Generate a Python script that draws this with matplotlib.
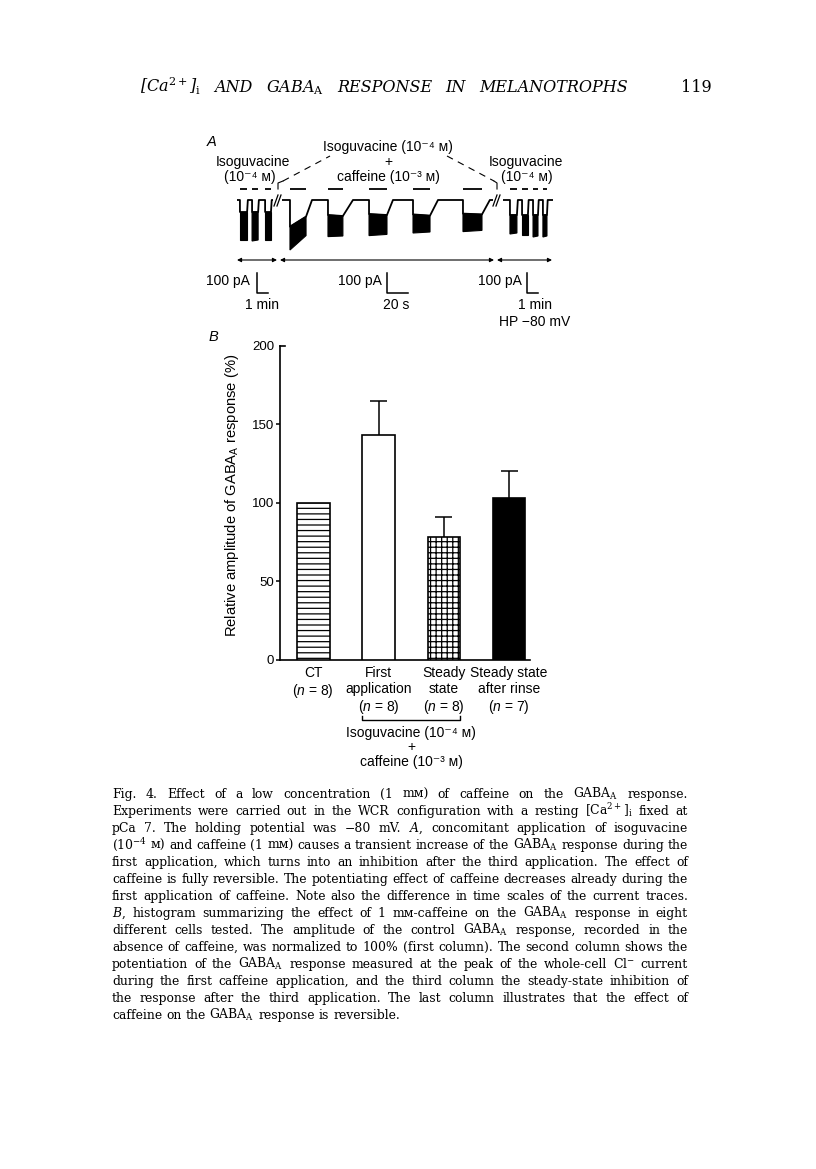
import matplotlib
matplotlib.use('Agg')
import matplotlib.pyplot as plt
import matplotlib.transforms as mtransforms
import numpy as np

plt.rcParams['font.family'] = ['Liberation Sans', 'DejaVu Sans']
plt.rcParams['mathtext.fontset'] = 'custom'
plt.rcParams['mathtext.rm'] = 'Liberation Sans'
plt.rcParams['mathtext.it'] = 'Liberation Sans:italic'
plt.rcParams['mathtext.bf'] = 'Liberation Sans:bold'
plt.rcParams['hatch.linewidth'] = 0.9

SERIF = ['DejaVu Serif', 'DejaVu Sans']
W, H = 816, 1169

# ---- panel B: relative amplitude of GABA_A response (%) ----
categories = ['CT\n($n$ = 8)', 'First\napplication\n($n$ = 8)',
              'Steady\nstate\n($n$ = 8)', 'Steady state\nafter rinse\n($n$ = 7)']
rel_amplitude = [100, 143, 78, 103]
sem_upper = [0, 21.5, 13, 17]
bar_hatch = ['---', '', '+++', '']
bar_fill = ['white', 'white', 'white', 'black']
y_ticks = [0, 50, 100, 150, 200]

# ---- panel A: whole-cell current traces (time in s, current in pA) ----
# isoguvacine alone (left, 1 min scale)
left_end = 196
left_on = [16, 82, 153]
left_off = [55, 115, 185]
left_rec = [59, 119, 189]
left_top0 = [-60, -60, -60]
left_top1 = [-60, -60, -60]
left_bot0 = [-200, -205, -200]
left_bot1 = [-200, -200, -200]

# isoguvacine + caffeine (middle, 20 s scale)
mid_end = 201
mid_on = [7.6, 43.8, 82.9, 124.8, 172.4]
mid_off = [22.9, 58.0, 100.0, 141.0, 190.5]
mid_rec = [28.6, 67.6, 105.7, 148.6, 198.0]
mid_top0 = [-133, -75, -70, -72, -68]
mid_top1 = [-83, -80, -75, -78, -72]
mid_bot0 = [-250, -183, -178, -165, -158]
mid_bot1 = [-178, -180, -172, -160, -152]

# isoguvacine alone after rinse (right, 1 min scale)
right_end = 273
right_on = [38, 104, 164, 218]
right_off = [76, 136, 191, 240]
right_rec = [81, 140, 195, 244]
right_top0 = [-75, -75, -75, -75]
right_top1 = [-75, -75, -75, -75]
right_bot0 = [-170, -175, -185, -185]
right_bot1 = [-165, -175, -180, -180]

app_level = 55          # application marks above the trace (pA)
trace_ylim = (-260, 70)

header_words = ["[Ca$^{2+}$]$_\\mathrm{i}$", "AND", "GABA$_\\mathrm{A}$", "RESPONSE", "IN", "MELANOTROPHS"]
page_number = '119'

caption_lines = [
    "Fig. 4. Effect of a low concentration (1 mᴍ) of caffeine on the GABA$_\\mathrm{A}$ response.",
    "Experiments were carried out in the WCR configuration with a resting [Ca$^{2+}$]$_\\mathrm{i}$ fixed at",
    "pCa 7. The holding potential was −80 mV. $A$, concomitant application of isoguvacine",
    "(10$^{-4}$ ᴍ) and caffeine (1 mᴍ) causes a transient increase of the GABA$_\\mathrm{A}$ response during the",
    "first application, which turns into an inhibition after the third application. The effect of",
    "caffeine is fully reversible. The potentiating effect of caffeine decreases already during the",
    "first application of caffeine. Note also the difference in time scales of the current traces.",
    "$B$, histogram summarizing the effect of 1 mᴍ-caffeine on the GABA$_\\mathrm{A}$ response in eight",
    "different cells tested. The amplitude of the control GABA$_\\mathrm{A}$ response, recorded in the",
    "absence of caffeine, was normalized to 100% (first column). The second column shows the",
    "potentiation of the GABA$_\\mathrm{A}$ response measured at the peak of the whole-cell Cl$^{-}$ current",
    "during the first caffeine application, and the third column the steady-state inhibition of",
    "the response after the third application. The last column illustrates that the effect of",
    "caffeine on the GABA$_\\mathrm{A}$ response is reversible.",
]


def frac(x0, y0, x1, y1):
    return [x0 / W, 1 - y1 / H, (x1 - x0) / W, (y1 - y0) / H]


fig = plt.figure(figsize=(W / 100, H / 100), dpi=100)
page = fig.add_axes([0, 0, 1, 1])
page.set_xlim(0, W)
page.set_ylim(H, 0)
page.axis('off')
renderer = fig.canvas.get_renderer()


def text_width(s, fs, **kw):
    t = page.text(0, 0, s, fontsize=fs, family=SERIF, math_fontfamily='dejavuserif', **kw)
    w = t.get_window_extent(renderer).width
    t.remove()
    return w


def justify(words, y, left, right, fs, spread=True, **kw):
    ws = [text_width(w, fs, **kw) for w in words]
    if spread:
        gap = (right - left - sum(ws)) / (len(words) - 1)
    else:
        gap = text_width('x x', fs, **kw) - text_width('xx', fs, **kw)
    xp = left
    for w, wd in zip(words, ws):
        page.text(xp, y, w, fontsize=fs, family=SERIF, math_fontfamily='dejavuserif',
                  ha='left', va='baseline', **kw)
        xp += wd + gap


# ---- running head (letter-spaced italic capitals) ----
justify(header_words, 92, 140, 628, 11.5, style='italic')
page.text(712, 92, page_number, ha='right', va='baseline', family=SERIF, fontsize=11.5)


# ---- panel A ----
def draw_trace(ax, t_end, on, off, rec, top0, top1, bot0, bot1):
    xs, ys = [0], [0]
    for i in range(len(on)):
        xs += [on[i], on[i], off[i], rec[i]]
        ys += [0, top0[i], top1[i], 0]
        ax.fill([on[i], off[i], off[i], on[i]], [top0[i], top1[i], bot1[i], bot0[i]],
                color='k', lw=0.8)
        ax.hlines(app_level, on[i], off[i], color='k', lw=1.3)
    xs.append(t_end)
    ys.append(0)
    ax.plot(xs, ys, color='k', lw=1.3, solid_joinstyle='round')
    ax.set_xlim(0, t_end)
    ax.set_ylim(*trace_ylim)
    ax.axis('off')


ax_l = fig.add_axes(frac(237, 186, 273, 252))
draw_trace(ax_l, left_end, left_on, left_off, left_rec, left_top0, left_top1, left_bot0, left_bot1)
ax_m = fig.add_axes(frac(282, 186, 493, 252))
draw_trace(ax_m, mid_end, mid_on, mid_off, mid_rec, mid_top0, mid_top1, mid_bot0, mid_bot1)
ax_r = fig.add_axes(frac(503, 186, 553, 252))
draw_trace(ax_r, right_end, right_on, right_off, right_rec, right_top0, right_top1, right_bot0, right_bot1)


def page_to_data(ax, px, py):
    return ax.transData.inverted().transform(page.transData.transform((px, py)))


def scale_bar(ax, px, py, dt, di=100):
    x0, y0 = page_to_data(ax, px, py)
    ax.plot([x0, x0, x0 + dt], [y0 + di, y0, y0], color='k', lw=1.1, clip_on=False)


scale_bar(ax_l, 257, 293, 60)
scale_bar(ax_m, 387, 293, 20)
scale_bar(ax_r, 527, 293, 60)

txt = dict(ha='center', va='center', fontsize=10)
page.text(212, 142, 'A', style='italic', fontsize=10.5, ha='center', va='center')
page.text(388, 147, 'Isoguvacine (10⁻⁴ ᴍ)', **txt)
page.text(388, 162, '+', **txt)
page.text(388, 177, 'caffeine (10⁻³ ᴍ)', **txt)
page.text(253, 162, 'Isoguvacine', **txt)
page.text(250, 177, '(10⁻⁴ ᴍ)', **txt)
page.text(526, 162, 'Isoguvacine', **txt)
page.text(527, 177, '(10⁻⁴ ᴍ)', **txt)

# connectors to the combined-application label
page.plot([278, 278, 283], [189, 183, 181], color='k', lw=0.8)
page.plot([283, 330], [181, 156], color='k', lw=0.8, dashes=(6, 5))
page.plot([447, 494], [156, 181], color='k', lw=0.8, dashes=(6, 5))
page.plot([494, 497, 497], [181, 183, 189], color='k', lw=0.8)
# break marks
for bx in (274, 277, 493, 496):
    page.plot([bx, bx + 4], [206, 195], color='k', lw=0.9)

# time-base arrows
for xa, xb in ((237, 277), (280, 494), (497, 552)):
    page.annotate('', xy=(xb, 260), xytext=(xa, 260),
                  arrowprops=dict(arrowstyle='<|-|>', lw=0.8, color='k',
                                  mutation_scale=6, shrinkA=0, shrinkB=0))

page.text(250, 281, '100 pA', ha='right', va='center', fontsize=10)
page.text(262, 305, '1 min', **txt)
page.text(382, 281, '100 pA', ha='right', va='center', fontsize=10)
page.text(396, 305, '20 s', **txt)
page.text(522, 281, '100 pA', ha='right', va='center', fontsize=10)
page.text(535, 305, '1 min', **txt)
page.text(535, 322, 'HP −80 mV', **txt)

# ---- panel B ----
page.text(213, 337, 'B', style='italic', fontsize=10.5, ha='center', va='center')
ax = fig.add_axes(frac(280, 345.7, 530, 660))
x = np.arange(len(categories))
bars = ax.bar(x, rel_amplitude, width=0.5, color=bar_fill, edgecolor='k', lw=1.2, zorder=3)
for b, h in zip(bars, bar_hatch):
    b.set_hatch(h)
for i in range(len(x)):
    if sem_upper[i] > 0:
        top = rel_amplitude[i] + sem_upper[i]
        ax.vlines(x[i], rel_amplitude[i], top, color='k', lw=1.1, zorder=2)
        ax.hlines(top, x[i] - 0.13, x[i] + 0.13, color='k', lw=1.1, zorder=2)

ax.set_xlim(-0.51, 3.32)
ax.set_ylim(0, 200)
for s in ('top', 'right'):
    ax.spines[s].set_visible(False)
for s in ('left', 'bottom'):
    ax.spines[s].set_linewidth(1.2)
ax.set_yticks(y_ticks)
ax.tick_params(axis='y', direction='out', length=2.6, width=1.1, pad=1.5, labelsize=9.5)
ax.yaxis.get_major_ticks()[-1].tick1line.set_visible(False)
ax.plot([0, 0.02], [200, 200], transform=ax.get_yaxis_transform(), color='k', lw=1.2, clip_on=False)
ax.set_xticks(x, categories)
ax.tick_params(axis='x', length=0, pad=4, labelsize=10)
for lab in ax.get_xticklabels():
    lab.set_linespacing(1.2)
ax.set_ylabel('Relative amplitude of GABA$_\\mathrm{A}$ response (%)', fontsize=10.6, labelpad=4)
ax.yaxis.set_label_coords(-0.155, 0.525)
ax.set_facecolor('none')

blend = mtransforms.blended_transform_factory(ax.transData, page.transData)
ax.plot([0.75, 0.75, 2.25, 2.25], [716, 720, 720, 716], transform=blend, color='k', lw=1, clip_on=False)
page.text(411, 733, 'Isoguvacine (10⁻⁴ ᴍ)', **txt)
page.text(411, 747, '+', **txt)
page.text(411, 762, 'caffeine (10⁻³ ᴍ)', **txt)

# ---- justified caption ----
cap_left, cap_right = 112, 688
cap_y0, cap_dy = 798, 17

fs = 10.0
space = text_width('x x', fs) - text_width('xx', fs)
widest = max(sum(text_width(w, fs) for w in l.split(' ')) + space * (len(l.split(' ')) - 1)
             for l in caption_lines)
fs *= (cap_right - cap_left) / widest

for k, line in enumerate(caption_lines):
    justify(line.split(' '), cap_y0 + k * cap_dy, cap_left, cap_right, fs,
            spread=(k < len(caption_lines) - 1))

fig.savefig('out.png', dpi=100)
